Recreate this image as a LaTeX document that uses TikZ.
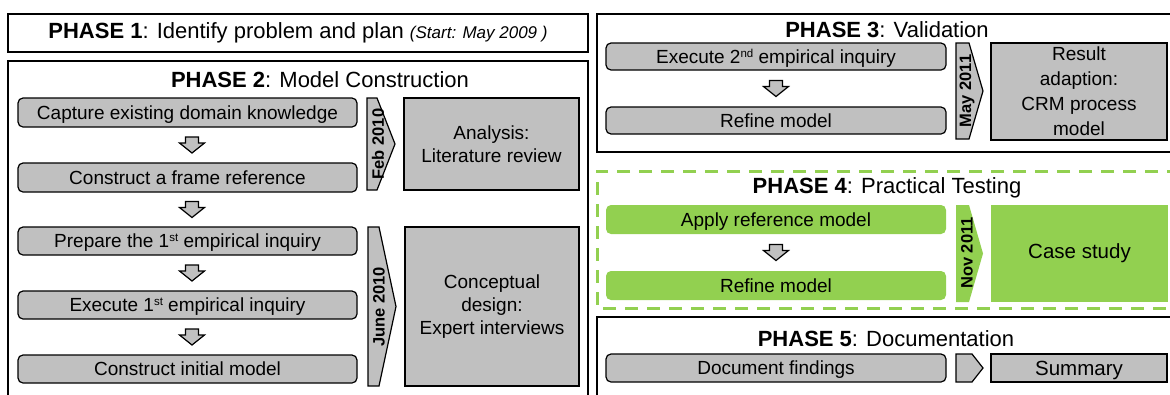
\documentclass[tikz,border=0pt]{standalone}
\usepackage{fontspec}
\setmainfont{Liberation Sans}
\usetikzlibrary{calc}
\definecolor{boxgray}{HTML}{C0C0C0}
\definecolor{lgreen}{HTML}{92D050}
\newcommand{\fsz}[2]{\fontsize{#1}{#2}\selectfont}
\newcommand{\supr}[1]{\raisebox{6pt}{\fsz{11.5}{12}#1}}
\tikzset{
  phasebox/.style={draw, line width=1.3pt, inner sep=0pt},
  greenphase/.style={draw=lgreen, line width=3pt, dash pattern=on 13pt off 9pt},
  titletext/.style={font=\fsz{22}{26}, inner sep=0pt},
  stepbox/.style={draw, line width=1.2pt, fill=boxgray, rounded corners=5pt, inner sep=0pt, font=\fsz{19}{23}, text height=15pt, text depth=2pt},
  greenstep/.style={fill=lgreen, rounded corners=5pt, inner sep=0pt, font=\fsz{19}{23}, text height=15pt, text depth=2pt},
  resultbox/.style={draw, line width=1.2pt, fill=boxgray, inner sep=0pt, align=center, font=\fsz{19}{23}},
  greenresult/.style={fill=lgreen, inner sep=0pt, align=center, font=\fsz{20.5}{24}},
  chevline/.style={draw, line width=1.2pt, line join=miter},
  datetext/.style={rotate=90, font=\bfseries\fsz{16.5}{19}, inner sep=0pt},
  dnarrow/.pic={\draw[line width=1.2pt, fill=boxgray, line join=miter] (-6.5,-8) -- (6.5,-8) -- (6.5,-2) -- (12.5,-2) -- (0,8) -- (-12.5,-2) -- (-6.5,-2) -- cycle;}
}
% chevron: xl, ytop, ybot, xtopright, xpoint, style
\newcommand{\chevron}[6]{\path[#6] (#1,#2) -- (#4,#2) -- (#5,{(#2+#3)/2}) -- (#4,#3) -- (#1,#3) -- cycle;}
\begin{document}
\begin{tikzpicture}[x=1pt,y=-1pt]
\useasboundingbox (0,0) rectangle (1170,394);
\fill[white] (0,0) rectangle (1170,394);

% ---------- PHASE 1 ----------
\node[phasebox, minimum width=580pt, minimum height=38pt, font=\fsz{22}{26}] (p1) at (298,33)
  {\textbf{PHASE 1}: Identify problem and plan {\itshape\fsz{17}{20}(Start: May 2009 )}};

% ---------- PHASE 2 ----------
\node[phasebox, minimum width=580pt, minimum height=339pt] (p2) at (298,230.5) {};
\node[titletext] (p2t) at (320,80) {\textbf{PHASE 2}: Model Construction};

\node[stepbox, minimum width=339pt, minimum height=29pt] (c1) at (187.5,112.5) {Capture existing domain knowledge};
\node[stepbox, minimum width=339pt, minimum height=29pt] (c2) at (187.5,177.5) {Construct a frame reference};
\node[stepbox, minimum width=339pt, minimum height=28pt] (c3) at (187.5,241) {Prepare the 1\supr{st} empirical inquiry};
\node[stepbox, minimum width=339pt, minimum height=28pt] (c4) at (187.5,305) {Execute 1\supr{st} empirical inquiry};
\node[stepbox, minimum width=339pt, minimum height=28pt] (c5) at (187.5,369) {Construct initial model};

\pic at ($(c1.south)!0.5!(c2.north)+(4.5,0)$) {dnarrow};
\pic at ($(c2.south)!0.5!(c3.north)+(4.5,0)$) {dnarrow};
\pic at ($(c3.south)!0.5!(c4.north)+(4.5,0)$) {dnarrow};
\pic at ($(c4.south)!0.5!(c5.north)+(4.5,0)$) {dnarrow};

\chevron{367}{98}{190}{377}{395}{chevline, fill=boxgray}
\node[datetext] (d1) at (378,144) {Feb 2010};
\node[resultbox, minimum width=175pt, minimum height=92pt] (r1) at (491.5,144) {Analysis:\\Literature review};

\chevron{368}{227}{386}{379}{396}{chevline, fill=boxgray}
\node[datetext] (d2) at (379,307) {June 2010};
\node[resultbox, minimum width=174pt, minimum height=159pt] (r2) at (492,306.5) {Conceptual\\design:\\Expert interviews};

% ---------- PHASE 3 ----------
\node[phasebox, minimum width=578pt, minimum height=138pt] (p3) at (886,83) {};
\node[titletext] (p3t) at (887,30) {\textbf{PHASE 3}: Validation};
\node[stepbox, minimum width=340pt, minimum height=27pt] (v1) at (776,56.5) {Execute 2\supr{nd} empirical inquiry};
\node[stepbox, minimum width=340pt, minimum height=27pt] (v2) at (776,120.5) {Refine model};
\pic at ($(v1.south)!0.5!(v2.north)$) {dnarrow};
\chevron{956}{43}{139}{969}{983}{chevline, fill=boxgray}
\node[datetext] (d3) at (967,91) {May 2011};
\node[resultbox, minimum width=176pt, minimum height=97pt, font=\fsz{19}{25}] (r3) at (1079,91.5) {Result\\adaption:\\CRM process\\model};

% ---------- PHASE 4 ----------
\draw[greenphase] (1180,171) -- (597,171) -- (597,308) -- (1180,308);
\node[titletext] (p4t) at (887,188) {\textbf{PHASE 4}: Practical Testing};
\node[greenstep, minimum width=340pt, minimum height=29pt] (t1) at (776,219.5) {Apply reference model};
\node[greenstep, minimum width=340pt, minimum height=29pt] (t2) at (776,285.5) {Refine model};
\pic at ($(t1.south)!0.5!(t2.north)$) {dnarrow};
\chevron{956}{205}{302}{969}{983}{fill=lgreen}
\node[datetext] (d4) at (967,253) {Nov 2011};
\node[greenresult, minimum width=177pt, minimum height=97pt] (r4) at (1079.5,253.5) {Case study};

% ---------- PHASE 5 ----------
\node[phasebox, minimum width=578pt, minimum height=86pt] (p5) at (886,360) {};
\node[titletext] (p5t) at (886,339) {\textbf{PHASE 5}: Documentation};
\node[stepbox, minimum width=340pt, minimum height=28pt] (f1) at (776,368) {Document findings};
\chevron{956}{354}{382}{972}{983}{chevline, fill=boxgray}
\node[resultbox, minimum width=176pt, minimum height=28pt, font=\fsz{20.5}{24}, text height=16pt, text depth=2pt] (s1) at (1079,368) {Summary};
\end{tikzpicture}
\end{document}
